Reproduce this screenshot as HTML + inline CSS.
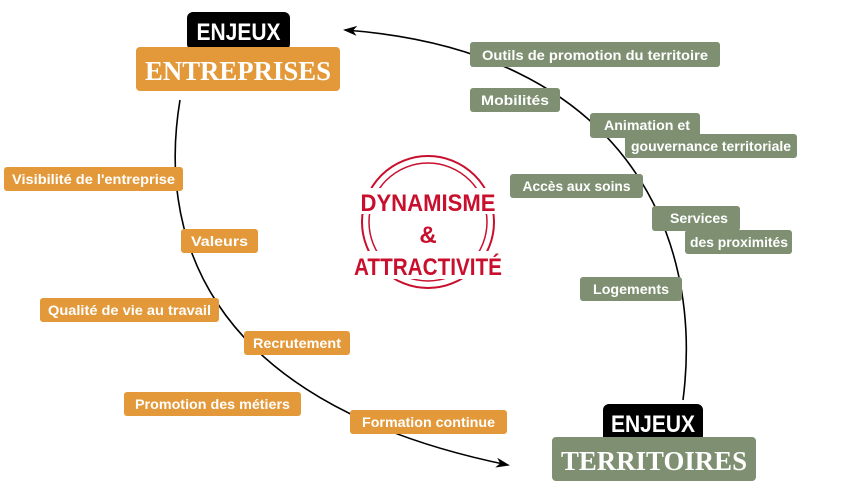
<!DOCTYPE html>
<html><head><meta charset="utf-8"><style>
html,body{margin:0;padding:0;background:#fff;width:867px;height:499px;overflow:hidden}
svg{display:block}
.t{font-family:"Liberation Sans Narrow","Liberation Sans",sans-serif;font-weight:bold;font-size:14px;fill:#fff}
.o{fill:#e3993a}
.g{fill:#7f9072}
</style></head><body>
<svg width="867" height="499" viewBox="0 0 867 499" xmlns="http://www.w3.org/2000/svg">
<defs>
<marker id="ah" markerWidth="14" markerHeight="10" refX="12" refY="5" orient="auto" markerUnits="userSpaceOnUse">
<path d="M0,0 L14,5 L0,10 L4,5 Z" fill="#000"/>
</marker>
</defs>
<!-- arcs -->
<path d="M180 100 C 160 220, 190 400, 508 465" fill="none" stroke="#000" stroke-width="1.6" marker-end="url(#ah)"/>
<path d="M683 400 C 705 230, 620 50, 345 30" fill="none" stroke="#000" stroke-width="1.6" marker-end="url(#ah)"/>

<!-- center badge -->
<circle cx="428" cy="222" r="66" fill="none" stroke="#c8102e" stroke-width="2"/>
<circle cx="428" cy="222" r="59" fill="none" stroke="#c8102e" stroke-width="1.5"/>
<rect x="355" y="188" width="146" height="26" fill="#fff"/>
<rect x="352" y="251" width="152" height="28" fill="#fff"/>
<text class="t" x="428" y="211" text-anchor="middle" style="fill:#c8102e;font-size:24px" textLength="135" lengthAdjust="spacingAndGlyphs">DYNAMISME</text>
<text class="t" x="428" y="243" text-anchor="middle" style="fill:#c8102e;font-size:24px">&amp;</text>
<text class="t" x="428" y="275" text-anchor="middle" style="fill:#c8102e;font-size:24px" textLength="148" lengthAdjust="spacingAndGlyphs">ATTRACTIVITÉ</text>

<!-- ENJEUX ENTREPRISES -->
<rect x="187" y="12" width="103" height="38" rx="6" fill="#000"/>
<text class="t" x="238.5" y="40" text-anchor="middle" style="font-size:24px" textLength="84" lengthAdjust="spacingAndGlyphs">ENJEUX</text>
<rect x="136" y="47" width="204" height="44" rx="4" class="o"/>
<text x="238" y="80" text-anchor="middle" style="font-family:'Liberation Serif',serif;font-weight:bold;font-size:27px;fill:#fff" textLength="186" lengthAdjust="spacingAndGlyphs">ENTREPRISES</text>

<!-- ENJEUX TERRITOIRES -->
<rect x="603" y="404" width="100" height="38" rx="6" fill="#000"/>
<text class="t" x="653" y="432" text-anchor="middle" style="font-size:24px" textLength="84" lengthAdjust="spacingAndGlyphs">ENJEUX</text>
<rect x="552" y="437" width="204" height="44" rx="4" class="g"/>
<text x="654" y="470" text-anchor="middle" style="font-family:'Liberation Serif',serif;font-weight:bold;font-size:27px;fill:#fff" textLength="186" lengthAdjust="spacingAndGlyphs">TERRITOIRES</text>

<!-- orange boxes -->
<rect x="4" y="167" width="179" height="24" rx="3" class="o"/>
<text class="t" x="93.5" y="184" text-anchor="middle" textLength="163" lengthAdjust="spacingAndGlyphs">Visibilité de l'entreprise</text>
<rect x="181" y="229" width="77" height="24" rx="3" class="o"/>
<text class="t" x="219.5" y="246" text-anchor="middle" textLength="57" lengthAdjust="spacingAndGlyphs">Valeurs</text>
<rect x="40" y="298" width="179" height="24" rx="3" class="o"/>
<text class="t" x="129.5" y="315" text-anchor="middle" textLength="163" lengthAdjust="spacingAndGlyphs">Qualité de vie au travail</text>
<rect x="244" y="331" width="106" height="24" rx="3" class="o"/>
<text class="t" x="297" y="348" text-anchor="middle" textLength="88" lengthAdjust="spacingAndGlyphs">Recrutement</text>
<rect x="124" y="392" width="177" height="24" rx="3" class="o"/>
<text class="t" x="212.5" y="409" text-anchor="middle" textLength="155" lengthAdjust="spacingAndGlyphs">Promotion des métiers</text>
<rect x="350" y="410" width="157" height="24" rx="3" class="o"/>
<text class="t" x="428.5" y="427" text-anchor="middle" textLength="133" lengthAdjust="spacingAndGlyphs">Formation continue</text>

<!-- green boxes -->
<rect x="470" y="42" width="250" height="25" rx="3" class="g"/>
<text class="t" x="595" y="60" text-anchor="middle" textLength="226" lengthAdjust="spacingAndGlyphs">Outils de promotion du territoire</text>
<rect x="470" y="88" width="90" height="24" rx="3" class="g"/>
<text class="t" x="515" y="105" text-anchor="middle" textLength="68" lengthAdjust="spacingAndGlyphs">Mobilités</text>
<rect x="590" y="113" width="110" height="25" rx="3" class="g"/>
<rect x="625" y="134" width="172" height="24" rx="3" class="g"/>
<text class="t" x="604" y="130" textLength="86" lengthAdjust="spacingAndGlyphs">Animation et</text>
<text class="t" x="631" y="151" textLength="160" lengthAdjust="spacingAndGlyphs">gouvernance territoriale</text>
<rect x="510" y="174" width="133" height="24" rx="3" class="g"/>
<text class="t" x="576.5" y="191" text-anchor="middle" textLength="108" lengthAdjust="spacingAndGlyphs">Accès aux soins</text>
<rect x="652" y="206" width="88" height="25" rx="3" class="g"/>
<rect x="685" y="230" width="107" height="24" rx="3" class="g"/>
<text class="t" x="670" y="223" textLength="58" lengthAdjust="spacingAndGlyphs">Services</text>
<text class="t" x="690" y="247" textLength="98" lengthAdjust="spacingAndGlyphs">des proximités</text>
<rect x="580" y="277" width="102" height="24" rx="3" class="g"/>
<text class="t" x="631" y="294" text-anchor="middle" textLength="76" lengthAdjust="spacingAndGlyphs">Logements</text>
</svg>
</body></html>
